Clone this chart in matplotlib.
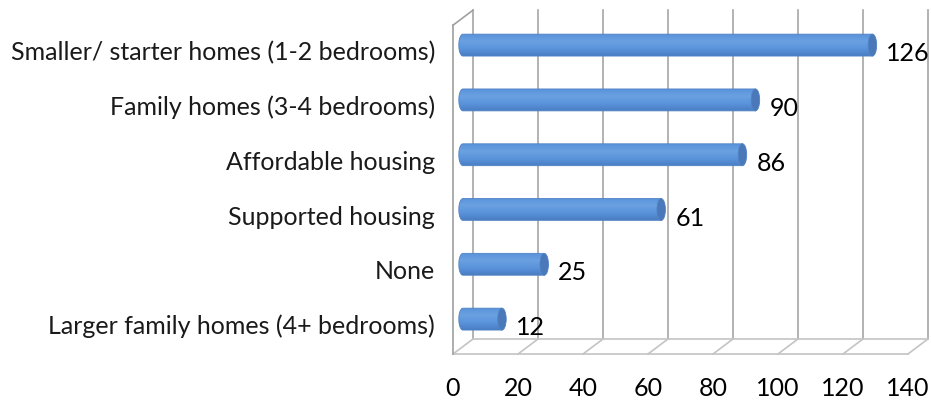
import numpy as np
import matplotlib.pyplot as plt
from matplotlib.patches import Polygon, Ellipse
from matplotlib.colors import LinearSegmentedColormap

# data (bottom to top)
categories = ["Larger family homes (4+ bedrooms)", "None", "Supported housing",
              "Affordable housing", "Family homes (3-4 bedrooms)",
              "Smaller/ starter homes (1-2 bedrooms)"]
values = [12, 25, 61, 86, 90, 126]
x_ticks = [0, 20, 40, 60, 80, 100, 120, 140]

plt.rcParams['font.family'] = ['Lato', 'DejaVu Sans']

fig = plt.figure(figsize=(9.31, 4.05), dpi=100)
ax = fig.add_axes([0, 0, 1, 1])

# fake 3D: depth offset in (value units, category units)
dx, dy = 6.15, 0.274
xmax = x_ticks[-1]
y0, y1 = -0.5, len(categories) - 0.5

grid_col = '#a6a6a6'
floor_col = '#c4c4c4'

# back wall gridlines
for t in x_ticks:
    ax.plot([t + dx, t + dx], [y0 + dy, y1 + dy], color=grid_col, lw=1.2, zorder=1)
# floor
for t in x_ticks:
    ax.plot([t, t + dx], [y0, y0 + dy], color=floor_col, lw=1.2, zorder=1)
ax.plot([0, xmax], [y0, y0], color=floor_col, lw=1.2, zorder=1)
ax.plot([dx, xmax + dx], [y0 + dy, y0 + dy], color=floor_col, lw=1.2, zorder=1)
# left side wall
ax.plot([0, 0], [y0, y1], color='#a0a0a0', lw=1.2, zorder=1)
ax.plot([0, dx], [y1, y1 + dy], color='#a0a0a0', lw=1.2, zorder=1)

# cylinder bars
cmap = LinearSegmentedColormap.from_list('cyl', ['#4a7ec4', '#5a93da', '#6aa1e2', '#5a93da'])
grad = np.linspace(0, 1, 64).reshape(-1, 1)
h = 0.40
capw = 2.6
for k, v in enumerate(values):
    cx = dx / 2
    cy = k + dy / 2
    ang = np.linspace(np.pi / 2, 3 * np.pi / 2, 40)
    pts = [(cx + capw / 2 * np.cos(a), cy + h / 2 * np.sin(a)) for a in ang]
    pts += [(cx + v, cy - h / 2), (cx + v, cy + h / 2)]
    body = Polygon(pts, closed=True, facecolor='none', edgecolor='#5082c4', lw=0.6, zorder=3)
    ax.add_patch(body)
    im = ax.imshow(grad, cmap=cmap, aspect='auto', origin='lower',
                   extent=[cx - capw / 2, cx + v, cy - h / 2, cy + h / 2], zorder=2)
    im.set_clip_path(body)
    cap = Ellipse((cx + v, cy), capw, h, facecolor='#4a78b8', edgecolor='#5082c4', lw=0.6, zorder=4)
    ax.add_patch(cap)
    ax.text(cx + v + capw / 2 + 3.0, k - 0.02, str(v), fontsize=18, ha='left', va='center', color='black')

# category labels
for k, c in enumerate(categories):
    ax.text(-5.5, k, c, fontsize=18, ha='right', va='center', color='#1a1a1a')

# x tick labels
for t in x_ticks:
    ax.text(t, -1.12, str(t), fontsize=18, ha='center', va='center', color='black')

ax.set_xlim(-139.4, 147.1)
ax.set_ylim(-1.43, 5.96)
ax.axis('off')

fig.savefig('out.png', dpi=100)
